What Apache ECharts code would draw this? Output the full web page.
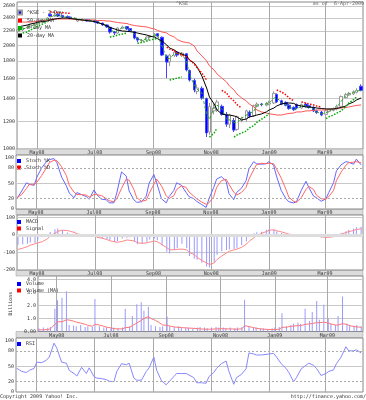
<!DOCTYPE html>
<html><head><meta charset="utf-8">
<script src="https://cdn.jsdelivr.net/npm/echarts@6/dist/echarts.min.js"></script>
<style>html,body{margin:0;padding:0;background:#fff}#c{width:366px;height:400px}</style>
</head><body><div id="c"></div>
<script>
// ---------- data ----------
const monthTicks = ['2008-05-01','2008-07-01','2008-09-01','2008-11-01','2009-01-01','2009-03-01'];
const monthLabels = ['May08','Jul08','Sep08','Nov08','Jan09','Mar09'];
const priceTicks = [1000,1200,1400,1600,1800,2000,2200,2400,2600];
const oscTicks = [0,20,50,80,100];
const macdTicks = [-200,-100,0,100];
const volTicks = [0,1,2,3,4];

const open = [2190,2215,2245,2260,2290,2305,2335,2367,2460,2430,2460,2440,2425,2415,2380,2350,2360,2370,2350,2360,2345,2320,2290,2255,2185,2170,2240,2265,2235,2190,2100,2060,2070,2110,2125,2160,2110,1860,1790,1870,1910,1870,1890,1690,1580,1470,1500,1400,1120,1290,1300,1330,1260,1180,1210,1140,1210,1225,1280,1250,1330,1350,1340,1350,1360,1440,1380,1365,1340,1320,1345,1315,1350,1335,1320,1290,1280,1260,1285,1295,1305,1330,1410,1435,1445,1460,1520];
const close = [2215,2245,2260,2290,2305,2335,2367,2399,2431,2448,2431,2415,2405,2399,2395,2367,2372,2351,2367,2335,2320,2290,2260,2185,2170,2245,2260,2230,2200,2098,2070,2065,2112,2126,2155,2126,1873,1787,1873,1911,1873,1898,1695,1585,1483,1503,1406,1113,1330,1315,1369,1260,1180,1255,1135,1240,1225,1290,1245,1335,1350,1345,1355,1360,1450,1370,1350,1340,1310,1300,1315,1345,1330,1320,1290,1275,1255,1290,1300,1305,1330,1420,1440,1450,1465,1480,1480];
const low = [2170,2200,2230,2250,2275,2295,2325,2355,2420,2420,2415,2400,2395,2380,2370,2340,2345,2340,2335,2320,2305,2275,2245,2160,2140,2160,2230,2215,2185,2080,2040,2035,2060,2095,2115,2110,1860,1607,1740,1850,1850,1850,1680,1570,1460,1440,1390,1083,1100,1260,1280,1250,1160,1150,1120,1130,1195,1200,1230,1240,1320,1330,1330,1340,1350,1360,1340,1330,1300,1290,1305,1310,1320,1310,1280,1265,1245,1255,1275,1285,1295,1320,1400,1425,1435,1450,1470];
const high = [2230,2260,2275,2300,2320,2345,2380,2410,2470,2465,2470,2450,2440,2425,2410,2385,2390,2380,2380,2370,2355,2325,2300,2265,2200,2255,2280,2275,2245,2200,2115,2085,2125,2140,2170,2170,2120,1880,1890,1935,1920,1910,1900,1700,1600,1540,1520,1410,1360,1360,1390,1345,1280,1265,1230,1250,1240,1300,1295,1345,1365,1360,1370,1380,1470,1450,1390,1375,1350,1330,1355,1355,1360,1345,1330,1300,1290,1300,1310,1320,1345,1430,1455,1465,1480,1500,1540];
const ma50 = [2335,2335,2335,2335,2343,2351,2359,2367,2375,2383,2383,2383,2383,2383,2383,2375,2367,2367,2367,2367,2359,2359,2351,2351,2335,2328,2320,2312,2297,2281,2275,2267,2260,2245,2230,2208,2185,2170,2141,2112,2077,2049,2036,2030,1990,1925,1862,1801,1743,1695,1651,1607,1565,1524,1483,1444,1406,1378,1351,1324,1298,1281,1272,1264,1260,1255,1255,1264,1268,1272,1281,1281,1290,1290,1294,1298,1298,1298,1303,1307,1311,1315,1320,1324,1333,1338,1342];
const ma20 = [2260,2275,2290,2305,2320,2335,2343,2351,2367,2383,2391,2399,2399,2391,2383,2375,2367,2359,2351,2343,2328,2305,2275,2252,2230,2215,2200,2195,2190,2182,2170,2155,2141,2126,2112,2091,2056,2003,1963,1937,1911,1886,1862,1812,1775,1729,1629,1503,1415,1351,1298,1264,1255,1255,1247,1239,1214,1222,1239,1247,1255,1264,1281,1298,1315,1333,1351,1360,1360,1356,1342,1333,1324,1324,1320,1315,1311,1307,1307,1307,1311,1320,1333,1351,1369,1387,1406];
const ma5 = [2200,2230,2250,2275,2295,2320,2350,2380,2415,2440,2440,2425,2410,2402,2397,2380,2370,2360,2360,2350,2328,2305,2275,2225,2180,2205,2250,2245,2215,2150,2085,2068,2090,2120,2140,2140,1990,1830,1830,1890,1890,1885,1790,1640,1535,1490,1455,1260,1220,1320,1340,1310,1220,1215,1195,1190,1230,1255,1265,1290,1340,1348,1350,1358,1405,1410,1360,1345,1325,1305,1308,1330,1338,1325,1305,1282,1265,1272,1295,1302,1318,1375,1430,1445,1458,1472,1480];
const _ = null;
const dotsUp = [_,2170,2185,2215,2245,2275,2305,2340,_,_,_,_,_,_,_,_,_,_,_,_,_,_,_,2112,2126,2141,2155,2170,_,_,2025,2040,2056,2070,2084,2098,_,_,1585,1596,1607,1618,_,_,_,_,_,_,1083,1113,1151,_,_,_,1083,1098,1113,1128,1151,1170,1195,1220,1245,1270,_,_,_,_,_,_,_,_,_,_,_,_,_,1225,1240,1255,1270,1290,1330,1360,1390,1415,_];
const dotsDn = [_,_,_,_,_,_,_,_,2500,2495,2490,2485,2480,2475,_,_,_,_,_,_,_,_,_,_,_,_,_,_,_,_,_,_,_,_,_,_,_,1976,1950,1925,1898,1873,1849,1812,1764,1718,1661,1585,_,_,_,1480,1454,1415,1378,1345,1315,_,_,_,_,_,_,_,_,1483,1464,1434,1406,1378,_,1369,1360,1351,1342,1333,1324,_,_,_,_,_,_,_,_,_,_];
const stochK = [20,35,51,48,46,62,80,92,96,98,90,62,45,31,22,32,28,24,19,37,28,19,18,12,12,31,72,64,35,18,13,14,25,50,67,51,20,12,24,36,51,46,32,24,20,15,9,3,20,42,58,63,54,30,18,32,40,55,78,92,88,87,88,92,85,64,36,20,14,12,14,36,54,42,25,22,15,20,32,51,74,86,92,91,87,97,86];
const stochD = [22,28,40,48,48,52,65,80,90,95,94,82,65,46,33,28,28,27,23,28,28,26,20,16,14,20,40,58,56,38,22,15,17,30,48,58,45,26,20,26,38,45,42,33,25,20,14,9,12,24,42,55,58,48,33,27,32,42,58,76,86,89,88,89,88,78,60,38,23,15,13,22,38,44,38,27,20,19,24,36,55,72,85,90,91,92,90];
const macd = [-55,-52,-50,-42,-45,-25,-12,5,18,34,37,28,15,8,4,2,-3,-5,-8,-9,-15,-19,-22,-30,-41,-35,-20,-15,-12,-37,-52,-50,-38,-25,-19,-30,-60,-95,-105,-84,-75,-50,-75,-120,-135,-142,-158,-180,-185,-155,-112,-92,-86,-82,-80,-75,-58,-35,-12,10,16,19,30,34,34,22,12,5,2,-3,-5,-4,-6,-8,-9,-10,-14,-15,-14,-6,3,10,22,30,37,45,48];
const signal = [-82,-75,-66,-58,-50,-45,-37,-22,-5,10,22,28,26,22,14,6,2,-2,-4,-7,-13,-18,-26,-33,-38,-41,-36,-28,-30,-34,-44,-47,-44,-40,-34,-38,-55,-72,-84,-84,-82,-80,-85,-100,-112,-128,-145,-160,-168,-160,-140,-120,-102,-92,-85,-80,-70,-52,-35,-15,-2,10,20,28,30,25,18,10,5,2,0,0,-1,-2,-3,-5,-10,-13,-12,-9,-3,5,15,20,26,32,36];
const volume = [0.25,0.3,0.28,0.35,1.75,2.4,2.6,3.1,0.5,0.45,0.4,0.5,0.35,0.4,0.35,2.5,0.4,0.3,0.3,0.25,0.3,0.25,0.3,1.75,0.4,1.2,2.1,2.25,1.6,1.9,0.5,0.4,0.35,0.4,1.15,0.4,0.35,0.4,0.3,0.3,0.3,0.25,0.3,0.35,0.3,0.25,0.3,0.35,0.3,0.3,0.25,0.3,0.25,0.3,0.35,2.45,0.4,0.3,0.3,0.25,0.25,0.2,0.25,0.3,0.35,1.4,0.4,0.5,0.6,0.7,0.6,1.75,0.8,1.5,2.35,0.9,2.05,1.0,0.6,0.5,1.2,2.7,0.6,0.5,0.45,0.5,0.4];
const volMA = [0.12,0.13,0.15,0.2,0.55,0.75,0.75,0.9,0.88,0.8,0.72,0.65,0.55,0.48,0.4,0.55,0.5,0.4,0.33,0.28,0.22,0.2,0.2,0.3,0.32,0.45,0.65,0.85,1.0,1.15,1.0,0.85,0.65,0.5,0.48,0.42,0.35,0.32,0.3,0.28,0.26,0.25,0.22,0.2,0.18,0.18,0.18,0.2,0.2,0.22,0.2,0.2,0.18,0.18,0.2,0.45,0.38,0.3,0.25,0.2,0.18,0.16,0.15,0.15,0.18,0.32,0.33,0.4,0.42,0.45,0.45,0.55,0.58,0.62,0.68,0.68,0.72,0.65,0.58,0.5,0.5,0.6,0.55,0.45,0.38,0.35,0.33];
const rsi = [46,40,38,42,46,58,57,62,68,95,85,58,56,42,36,31,48,36,47,30,27,26,24,21,20,40,55,53,56,27,23,23,40,47,68,42,22,14,20,30,36,36,36,33,28,18,18,17,30,38,46,55,60,40,15,28,34,45,76,74,72,72,73,74,75,68,55,46,38,20,28,45,52,56,52,46,32,36,40,43,55,68,88,80,80,82,76];

// ---------- time axis: one candle per 3 trading days ----------
const DAY = 86400000;
const START = Date.UTC(2008, 3, 10), END = Date.UTC(2009, 3, 10);
const tradingDays = [];
for (let t = START; t < END; t += DAY) { const wd = new Date(t).getUTCDay(); if (wd !== 0 && wd !== 6) tradingDays.push(t); }
const dates = close.map((_v, i) => tradingDays[Math.min(i * 3 + 1, tradingDays.length - 1)]);
const monthTs = monthTicks.map(s => Date.parse(s + 'T00:00:00Z'));
const pair = arr => dates.map((d, i) => [d, arr[i] == null ? '-' : arr[i]]);

const FONT = 'DejaVu Sans Mono';
const TXT = {fontSize: 5, fontFamily: FONT, color: '#333'};
const L = 16, W = 347;
const grids = [
  {left: L, width: W, top: 2, height: 147},
  {left: L, width: W, top: 155, height: 54},
  {left: L, width: W, top: 215, height: 55},
  {left: L, width: W, top: 276, height: 55.5},
  {left: L, width: W, top: 338, height: 54}
].map(g => Object.assign(g, {show: true, borderColor: '#888', borderWidth: 1, backgroundColor: '#fff'}));

const xAxes = grids.map((g, gi) => ({
  type: 'value', gridIndex: gi, min: START, max: END,
  axisLine: {show: false},
  axisTick: {show: false, customValues: monthTs},
  axisLabel: Object.assign({show: gi < 4, customValues: monthTs, margin: 1.5,
    formatter: v => { let k = 0, best = Infinity; monthTs.forEach((m, j) => { if (Math.abs(m - v) < best) { best = Math.abs(m - v); k = j; } }); return monthLabels[k]; }}, TXT),
  splitLine: {show: true, lineStyle: {color: '#aaa', width: 1}}
}));

const yBase = (gi, extra) => Object.assign({
  gridIndex: gi, axisLine: {show: false},
  splitLine: {show: true, lineStyle: {color: '#c8c8c8', width: 1}}
}, extra);
const lab = (vals, fmt) => Object.assign({margin: 2, customValues: vals, formatter: fmt || (v => String(v))}, TXT);

const yAxes = [
  yBase(0, {type: 'log', logBase: 10, min: 1000, max: 2670,
    axisTick: {show: false, customValues: priceTicks}, axisLabel: lab(priceTicks)}),
  yBase(1, {type: 'value', min: 0, max: 105,
    axisTick: {show: false, customValues: [50]}, axisLabel: lab(oscTicks)}),
  yBase(2, {type: 'value', min: -200, max: 115,
    axisTick: {show: false, customValues: [-100, 100]}, axisLabel: lab(macdTicks)}),
  yBase(3, {type: 'value', min: 0, max: 4.27, name: 'Billions', nameLocation: 'middle', nameRotate: 90, nameGap: 10,
    nameTextStyle: TXT,
    axisTick: {show: false, customValues: [1, 2, 3, 4]},
    axisLabel: lab(volTicks, v => v === 0 ? '0.00' : v.toFixed(1))}),
  yBase(4, {type: 'value', min: 0, max: 105,
    axisTick: {show: false, customValues: [50]}, axisLabel: lab(oscTicks)})
];

const dashLines = vals => ({silent: true, symbol: 'none', label: {show: false},
  lineStyle: {color: '#aaa', type: [2, 2], width: 1}, data: vals.map(v => ({yAxis: v}))});

const line = (name, gi, arr, color, extra) => Object.assign({
  name, type: 'line', xAxisIndex: gi, yAxisIndex: gi, data: pair(arr),
  showSymbol: false, symbol: 'none', lineStyle: {color, width: 1}, itemStyle: {color},
  connectNulls: false, animation: false, z: 3
}, extra || {});

const legendBase = (top, data, gap) => ({
  left: 17, top, orient: 'vertical', icon: 'rect', itemWidth: 4, itemHeight: 4, itemGap: gap,
  padding: 0, selectedMode: false, textStyle: TXT, data
});

const option = {
  animation: false,
  backgroundColor: '#fff',
  title: [
    {text: '^KSE', left: 176, top: 1, padding: 0, textStyle: Object.assign({}, TXT, {color: '#666', fontWeight: 'normal'})},
    {text: 'as of  6-Apr-2009', right: 2, top: 1, padding: 0, textStyle: Object.assign({}, TXT, {color: '#666', fontWeight: 'normal'})},
    {text: 'Copyright 2009 Yahoo! Inc.', left: 0, top: 394, padding: 0, textStyle: Object.assign({}, TXT, {fontWeight: 'normal'})},
    {text: 'http://finance.yahoo.com/', right: 0, top: 394, padding: 0, textStyle: Object.assign({}, TXT, {fontWeight: 'normal'})}
  ],
  graphic: [149, 209, 270, 331.5].map(y => ({
    type: 'rect', z: -1, shape: {x: L, y: y, width: W, height: 6}, style: {fill: '#dcdcdc', stroke: '#999', lineWidth: 0.5}
  })),
  legend: [
    legendBase(9.5, [{name: '^KSE - 3-Day', itemStyle: {color: '#0000ff'}}, {name: '50-day MA', itemStyle: {color: '#ff0000'}}, {name: '5-day MA', itemStyle: {color: '#00aa00'}}, {name: '20-day MA', itemStyle: {color: '#000'}}], 2.5),
    legendBase(158.5, [{name: 'Stoch %K', itemStyle: {color: '#0000ff'}}, {name: 'Stoch %D', itemStyle: {color: '#ff0000'}}], 1.5),
    legendBase(219.5, [{name: 'MACD', itemStyle: {color: '#0000ff'}}, {name: 'Signal', itemStyle: {color: '#ff0000'}}], 1.5),
    legendBase(281.5, [{name: 'Volume', itemStyle: {color: '#0000ff'}}, {name: 'Volume (MA)', itemStyle: {color: '#ff0000'}}], 1.5),
    legendBase(341.5, [{name: 'RSI', itemStyle: {color: '#0000ff'}}], 1.5)
  ],
  grid: grids,
  xAxis: xAxes,
  yAxis: yAxes,
  series: [
    {name: '^KSE - 3-Day', type: 'candlestick', xAxisIndex: 0, yAxisIndex: 0, barWidth: 3,
     encode: {x: 0, y: [1, 2, 3, 4]},
     data: dates.map((d, i) => [d, open[i], close[i], low[i], high[i]]),
     itemStyle: {color: '#ffffff', color0: '#0000ff', borderColor: '#999999', borderColor0: '#4444ff', borderWidth: 1}, z: 2},
    line('50-day MA', 0, ma50, '#ff5555'),
    line('5-day MA', 0, ma5, '#22aa22', {lineStyle: {color: '#22aa22', width: 1, type: [3, 2]}}),
    line('20-day MA', 0, ma20, '#000000'),
    line('dotsUp', 0, dotsUp, '#00aa00', {lineStyle: {color: '#00aa00', width: 1.5, type: [1.5, 1.5]}}),
    line('dotsDn', 0, dotsDn, '#ff0000', {lineStyle: {color: '#ff0000', width: 1.5, type: [1.5, 1.5]}}),
    line('Stoch %K', 1, stochK, '#6666ff', {markLine: dashLines([20, 80])}),
    line('Stoch %D', 1, stochD, '#ff6666'),
    {name: 'MACD', type: 'bar', xAxisIndex: 2, yAxisIndex: 2, barWidth: 1, data: pair(macd), itemStyle: {color: '#9999ff'}, z: 2},
    line('Signal', 2, signal, '#ff8888', {markLine: {silent: true, symbol: 'none', label: {show: false}, lineStyle: {color: '#dddddd', type: 'solid', width: 3}, data: [{yAxis: 0}]}}),
    {name: 'Volume', type: 'bar', xAxisIndex: 3, yAxisIndex: 3, barWidth: 1, data: pair(volume), itemStyle: {color: '#9999ff'}, z: 2},
    line('Volume (MA)', 3, volMA, '#ff7777'),
    line('RSI', 4, rsi, '#8888ff', {markLine: dashLines([20, 80])})
  ]
};
const chart = echarts.init(document.getElementById('c'), null, {renderer: 'canvas'});
chart.setOption(option);
</script></body></html>
